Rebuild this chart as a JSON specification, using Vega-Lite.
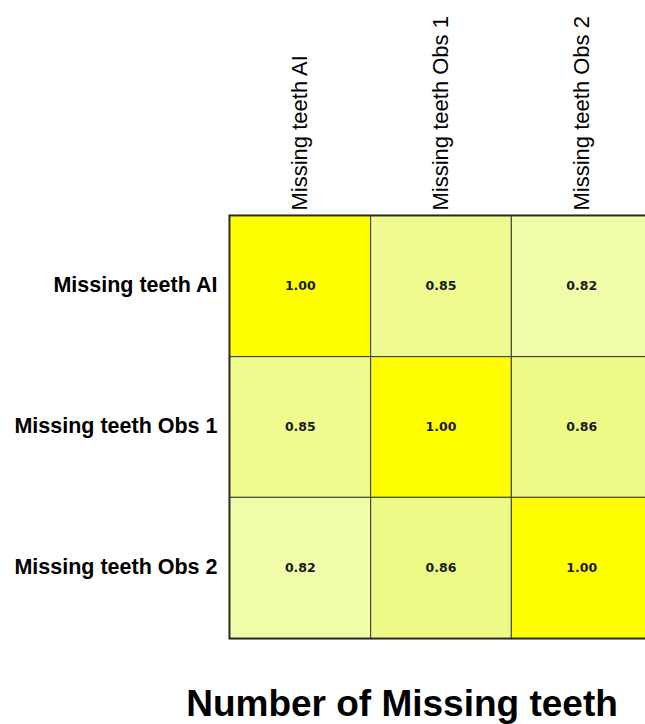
{
  "$schema": "https://vega.github.io/schema/vega-lite/v6.json",
  "width": 422,
  "height": 422,
  "autosize": {"type": "none"},
  "padding": {"left": 230, "top": 216, "right": 0, "bottom": 90},
  "background": "white",
  "config": {
    "font": "Liberation Sans",
    "view": {"stroke": "#1a1a1a", "strokeWidth": 3}
  },
  "title": {
    "text": "Number of Missing teeth",
    "orient": "bottom",
    "anchor": "middle",
    "dx": -39,
    "offset": 48,
    "fontSize": 37,
    "fontWeight": "bold",
    "font": "Liberation Sans",
    "color": "#000000"
  },
  "data": {
    "values": [
      {"col": "Missing teeth AI", "row": "Missing teeth AI", "r": 1.00},
      {"col": "Missing teeth Obs 1", "row": "Missing teeth AI", "r": 0.85},
      {"col": "Missing teeth Obs 2", "row": "Missing teeth AI", "r": 0.82},
      {"col": "Missing teeth AI", "row": "Missing teeth Obs 1", "r": 0.85},
      {"col": "Missing teeth Obs 1", "row": "Missing teeth Obs 1", "r": 1.00},
      {"col": "Missing teeth Obs 2", "row": "Missing teeth Obs 1", "r": 0.86},
      {"col": "Missing teeth AI", "row": "Missing teeth Obs 2", "r": 0.82},
      {"col": "Missing teeth Obs 1", "row": "Missing teeth Obs 2", "r": 0.86},
      {"col": "Missing teeth Obs 2", "row": "Missing teeth Obs 2", "r": 1.00}
    ]
  },
  "encoding": {
    "x": {
      "field": "col",
      "type": "nominal",
      "sort": ["Missing teeth AI", "Missing teeth Obs 1", "Missing teeth Obs 2"],
      "scale": {"paddingInner": 0, "paddingOuter": 0},
      "axis": {
        "orient": "top",
        "title": null,
        "labelAngle": -90,
        "labelAlign": "left",
        "labelBaseline": "middle",
        "labelFontSize": 22,
        "labelFont": "Liberation Sans",
        "labelColor": "#000000",
        "labelPadding": 6,
        "ticks": false,
        "domain": false,
        "labelLimit": 300
      }
    },
    "y": {
      "field": "row",
      "type": "nominal",
      "sort": ["Missing teeth AI", "Missing teeth Obs 1", "Missing teeth Obs 2"],
      "scale": {"paddingInner": 0, "paddingOuter": 0},
      "axis": {
        "title": null,
        "labelFontSize": 21.5,
        "labelFontWeight": "bold",
        "labelFont": "Liberation Sans",
        "labelColor": "#000000",
        "labelPadding": 13,
        "ticks": false,
        "domain": false,
        "labelLimit": 300
      }
    }
  },
  "layer": [
    {
      "mark": {"type": "rect", "stroke": "#3a3a2a", "strokeWidth": 1},
      "encoding": {
        "color": {
          "field": "r",
          "type": "quantitative",
          "scale": {"domain": [0.82, 0.86, 1.0], "range": ["#F1FCA8", "#EDFA86", "#FFFF00"]},
          "legend": null
        }
      }
    },
    {
      "mark": {"type": "text", "fontSize": 12.5, "fontWeight": "bold", "font": "DejaVu Sans", "color": "#1a1a1a"},
      "encoding": {
        "text": {"field": "r", "type": "quantitative", "format": ".2f"}
      }
    }
  ]
}
